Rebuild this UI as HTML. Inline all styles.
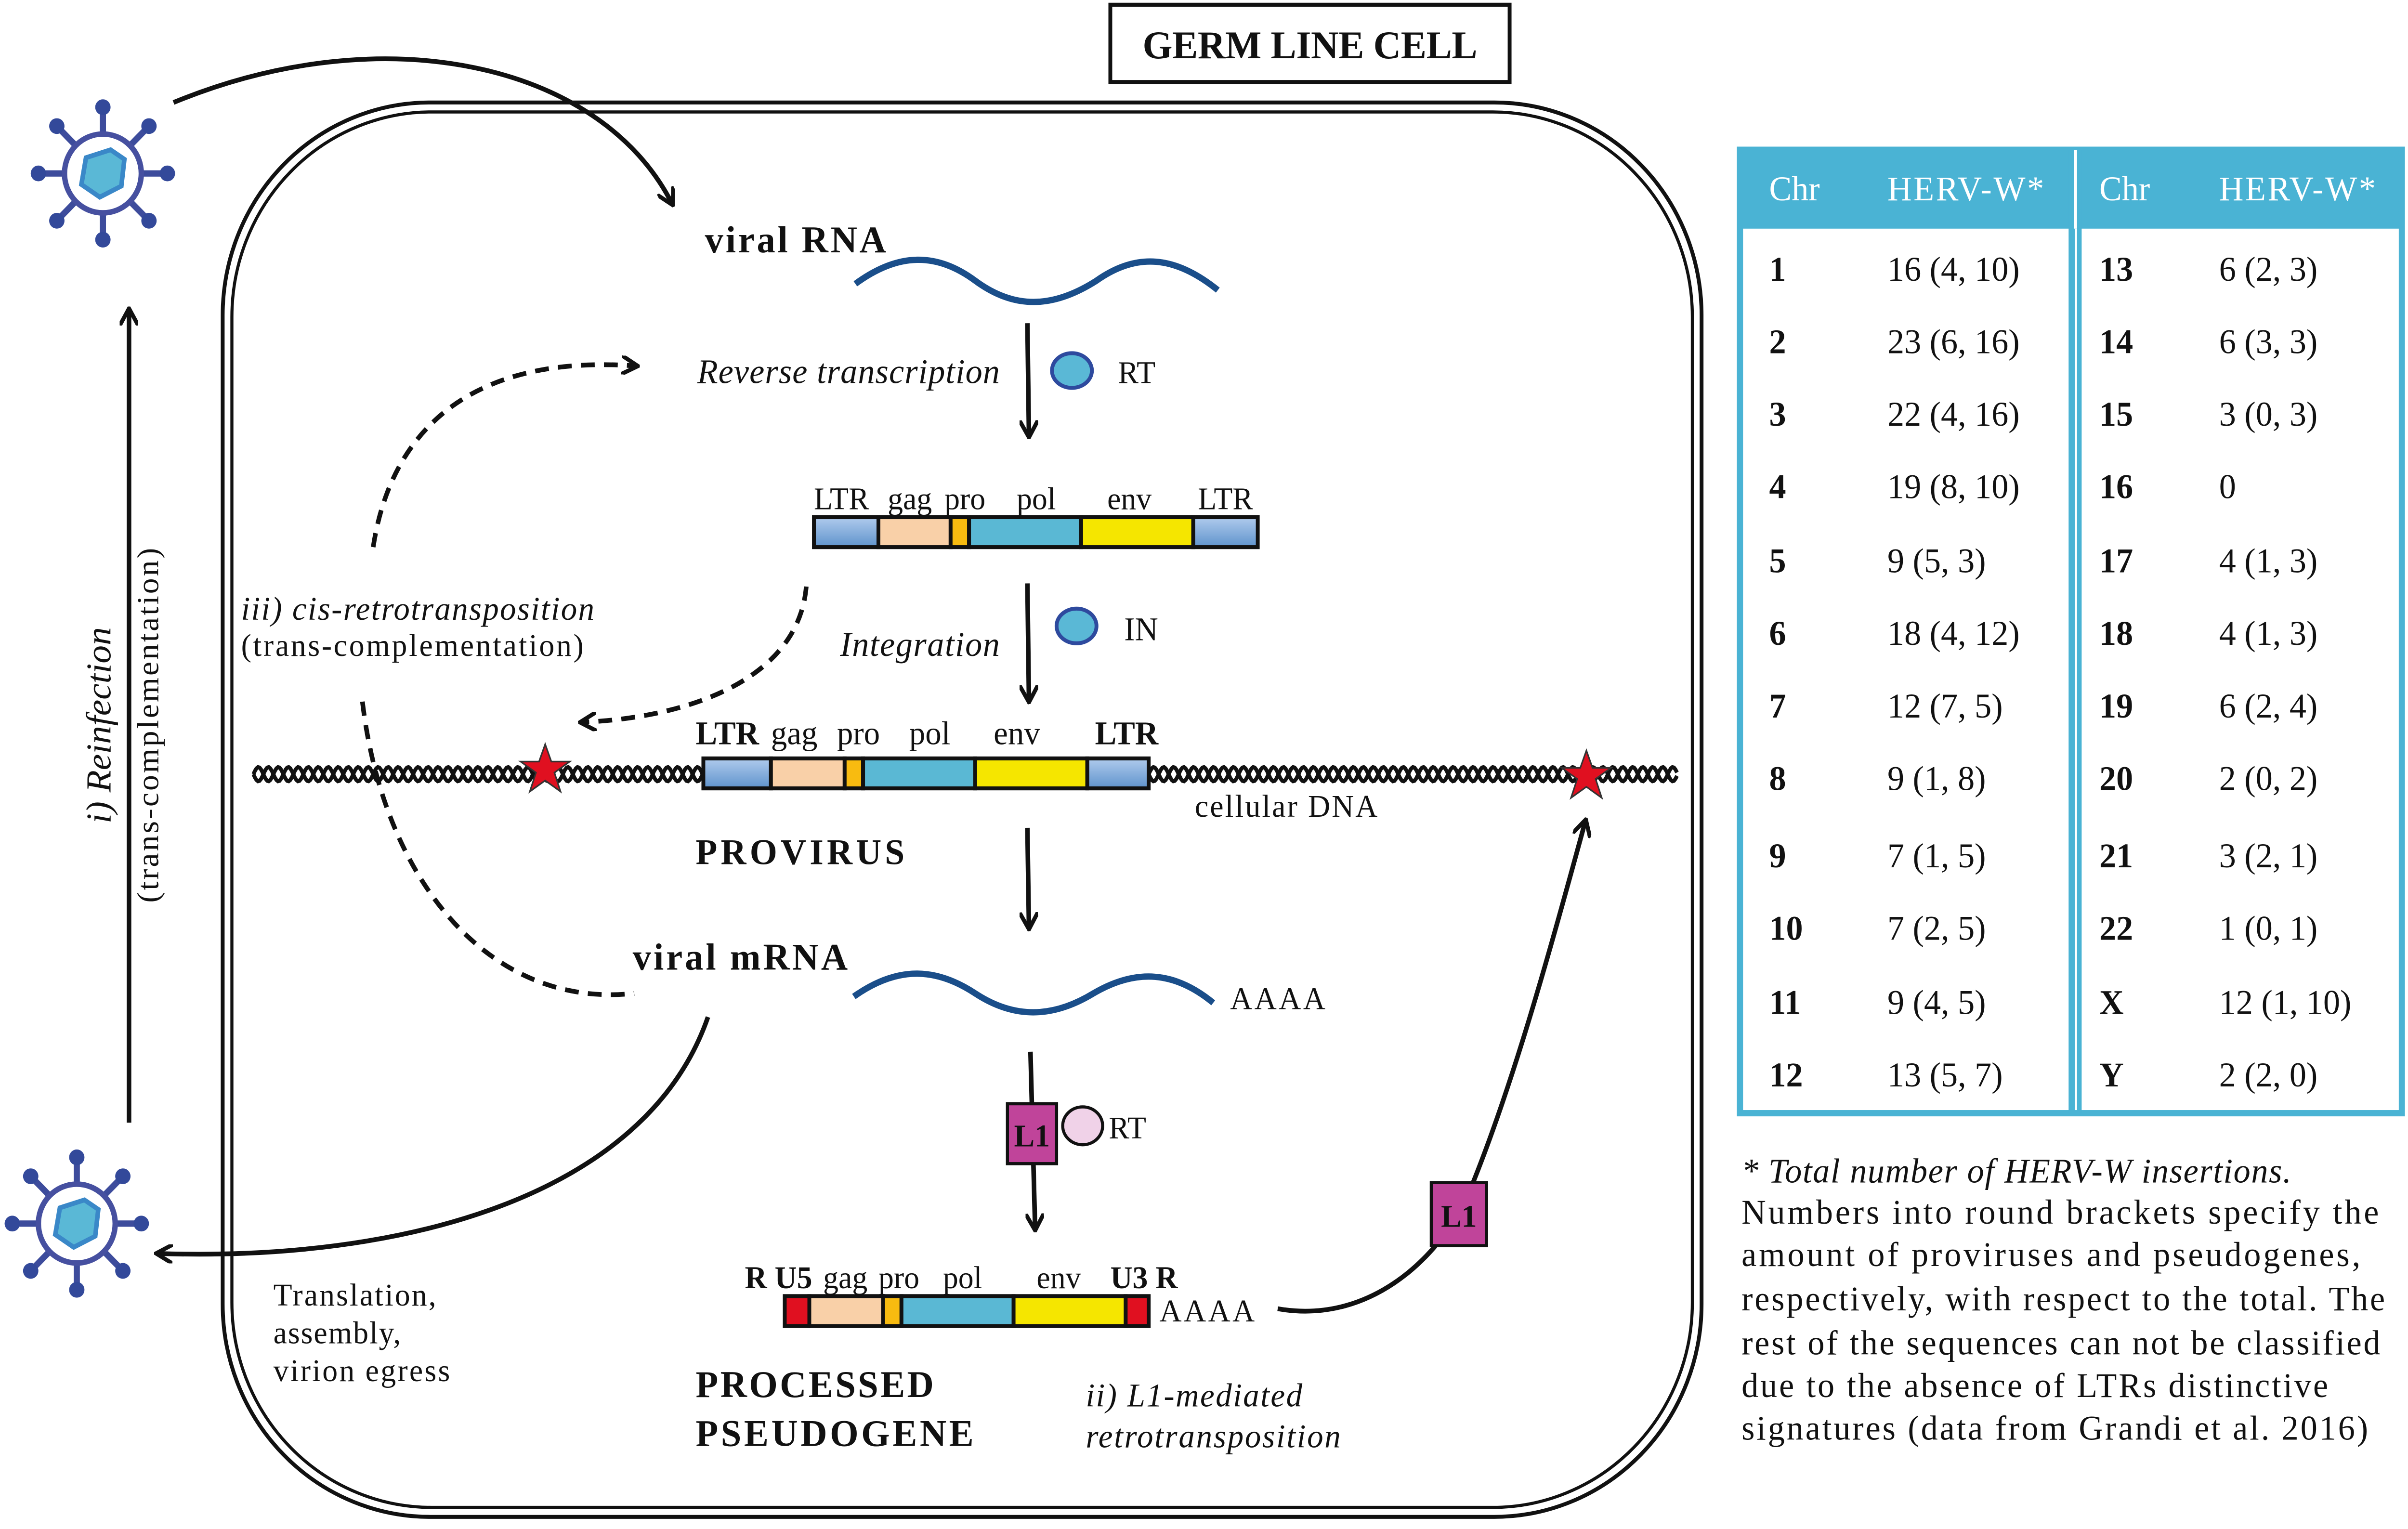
<!DOCTYPE html>
<html><head><meta charset="utf-8"><style>
html,body{margin:0;padding:0;background:#fff;overflow:hidden;width:100%;height:100%}
svg{display:block;position:fixed;left:0;top:0;width:100vw;height:100vh}
text{font-family:"Liberation Serif",serif;fill:#111}
.b{font-weight:bold}.i{font-style:italic}
</style></head><body>
<svg id="s" viewBox="0 0 1568 969.7" preserveAspectRatio="none" xmlns="http://www.w3.org/2000/svg">
<defs>
<marker id="ah" viewBox="0 0 10 10" refX="7" refY="5" markerWidth="4" markerHeight="4" orient="auto"><path d="M0,0 L9,5 L0,10" fill="none" stroke="#111" stroke-width="2.2"/></marker>
<linearGradient id="lb" x1="0" y1="0" x2="0" y2="1"><stop offset="0" stop-color="#b0cbed"/><stop offset="1" stop-color="#5f93cc"/></linearGradient>
<g id="virus">
<g stroke="#3d4c9c" stroke-width="4">
<line x1="0" y1="-42" x2="0" y2="42"/><line x1="-42" y1="0" x2="42" y2="0"/>
<line x1="-30" y1="-30" x2="30" y2="30"/><line x1="30" y1="-30" x2="-30" y2="30"/>
</g>
<g fill="#33499a"><circle cx="0" cy="-42" r="5"/><circle cx="0" cy="42" r="5"/><circle cx="-42" cy="0" r="5"/><circle cx="42" cy="0" r="5"/><circle cx="-30" cy="-30" r="5"/><circle cx="30" cy="30" r="5"/><circle cx="30" cy="-30" r="5"/><circle cx="-30" cy="30" r="5"/></g>
<circle r="25" fill="#fff" stroke="#4650a0" stroke-width="3.5"/>
<polygon points="5,-15 14,-9 12,8 -2,15 -14,7 -11,-10" fill="#5ab8d6" stroke="#3a88c8" stroke-width="3"/>
</g>
</defs>

<rect x="723" y="3" width="260" height="49" fill="#fff" stroke="#111" stroke-width="2.5"/>
<text x="853" y="37" text-anchor="middle" class="b" font-size="25" textLength="218">GERM LINE CELL</text>

<rect x="145" y="65" width="963" height="897" rx="135" fill="none" stroke="#111" stroke-width="2.5"/>
<rect x="151" y="71" width="951" height="885" rx="130" fill="none" stroke="#111" stroke-width="2"/>

<use href="#virus" x="67" y="110"/>
<use href="#virus" x="50" y="776"/>

<path d="M113,65 C250,10 390,40 437,128" fill="none" stroke="#111" stroke-width="3" marker-end="url(#ah)"/>
<line x1="84" y1="712" x2="84" y2="198" stroke="#111" stroke-width="3" marker-end="url(#ah)"/>
<text transform="translate(72,460) rotate(-90)" text-anchor="middle" class="i" font-size="23">i) Reinfection</text>
<text transform="translate(103,460) rotate(-90)" text-anchor="middle" font-size="20" textLength="225">(trans-complementation)</text>

<text x="459" y="160" class="b" font-size="24" textLength="118">viral RNA</text>
<path d="M557,180 C585,160 610,160 635,178 C660,196 685,196 714,178 C740,160 765,162 793,184" fill="none" stroke="#1a4e8a" stroke-width="4"/>
<line x1="669" y1="205" x2="670" y2="275" stroke="#111" stroke-width="3" marker-end="url(#ah)"/>
<ellipse cx="698" cy="235" rx="13" ry="11" fill="#5ab8d6" stroke="#2e4a9e" stroke-width="2.5"/>
<text x="728" y="243" font-size="20">RT</text>
<text x="454" y="243" class="i" font-size="22" textLength="197">Reverse transcription</text>

<g stroke="#111" stroke-width="2.5">
<rect x="530" y="328" width="42" height="19" fill="url(#lb)"/>
<rect x="572" y="328" width="47" height="19" fill="#f9d0a8"/>
<rect x="619" y="328" width="12" height="19" fill="#f8bb10"/>
<rect x="631" y="328" width="73" height="19" fill="#5ab8d4"/>
<rect x="704" y="328" width="73" height="19" fill="#f5e600"/>
<rect x="777" y="328" width="42" height="19" fill="url(#lb)"/>
</g>
<g font-size="20"><text x="530" y="323">LTR</text><text x="578" y="323">gag</text><text x="615" y="323">pro</text><text x="662" y="323">pol</text><text x="721" y="323">env</text><text x="780" y="323">LTR</text></g>

<line x1="669" y1="370" x2="670" y2="443" stroke="#111" stroke-width="3" marker-end="url(#ah)"/>
<ellipse cx="701" cy="397" rx="13" ry="11" fill="#5ab8d6" stroke="#2e4a9e" stroke-width="2.5"/>
<text x="732" y="406" font-size="21">IN</text>
<text x="547" y="416" class="i" font-size="22" textLength="104">Integration</text>

<path id="h1" fill="none" stroke="#111" stroke-width="2.5"/>
<path id="h2" fill="none" stroke="#111" stroke-width="2.5"/>

<g stroke="#111" stroke-width="2.5">
<rect x="458" y="481" width="44" height="19" fill="url(#lb)"/>
<rect x="502" y="481" width="48" height="19" fill="#f9d0a8"/>
<rect x="550" y="481" width="12" height="19" fill="#f8bb10"/>
<rect x="562" y="481" width="73" height="19" fill="#5ab8d4"/>
<rect x="635" y="481" width="73" height="19" fill="#f5e600"/>
<rect x="708" y="481" width="40" height="19" fill="url(#lb)"/>
</g>
<g font-size="21"><text x="453" y="472" class="b">LTR</text><text x="502" y="472">gag</text><text x="545" y="472">pro</text><text x="592" y="472">pol</text><text x="647" y="472">env</text><text x="713" y="472" class="b">LTR</text></g>
<polygon points="355,472 359,483 371,483 361,490 365,502 355,495 345,502 349,490 339,483 351,483" fill="#e01020" stroke="#333" stroke-width="1"/>
<polygon points="1033,476 1037,487 1049,487 1039,494 1043,506 1033,499 1023,506 1027,494 1017,487 1029,487" fill="#e01020" stroke="#333" stroke-width="1"/>
<text x="778" y="518" font-size="20" textLength="119">cellular DNA</text>
<text x="453" y="548" class="b" font-size="23" textLength="136">PROVIRUS</text>

<line x1="669" y1="525" x2="670" y2="587" stroke="#111" stroke-width="3" marker-end="url(#ah)"/>

<text x="412" y="615" class="b" font-size="24" textLength="140">viral mRNA</text>
<path d="M556,632 C585,612 610,614 635,630 C660,646 685,646 712,630 C740,614 765,616 790,636" fill="none" stroke="#1a4e8a" stroke-width="4"/>
<text x="801" y="640" font-size="20" textLength="62">AAAA</text>

<line x1="671" y1="667" x2="674" y2="778" stroke="#111" stroke-width="3" marker-end="url(#ah)"/>
<rect x="656" y="700" width="32" height="38" fill="#c0449a" stroke="#111" stroke-width="2"/>
<text x="672" y="727" text-anchor="middle" class="b" font-size="20">L1</text>
<ellipse cx="705" cy="714" rx="13" ry="12" fill="#f0d2e8" stroke="#111" stroke-width="2"/>
<text x="722" y="722" font-size="20">RT</text>

<g stroke="#111" stroke-width="2.5">
<rect x="511" y="822" width="16" height="19" fill="#e01020"/>
<rect x="527" y="822" width="48" height="19" fill="#f9d0a8"/>
<rect x="575" y="822" width="12" height="19" fill="#f8bb10"/>
<rect x="587" y="822" width="73" height="19" fill="#5ab8d4"/>
<rect x="660" y="822" width="73" height="19" fill="#f5e600"/>
<rect x="733" y="822" width="15" height="19" fill="#e01020"/>
</g>
<g font-size="20"><text x="485" y="817" class="b">R U5</text><text x="536" y="817">gag</text><text x="572" y="817">pro</text><text x="614" y="817">pol</text><text x="675" y="817">env</text><text x="723" y="817" class="b">U3 R</text></g>
<text x="755" y="838" font-size="20" textLength="62">AAAA</text>
<text x="453" y="886" class="b" font-size="24" textLength="155">PROCESSED</text>
<text x="453" y="917" class="b" font-size="24" textLength="181">PSEUDOGENE</text>
<text x="707" y="892" class="i" font-size="21" textLength="141">ii) L1-mediated</text>
<text x="707" y="918" class="i" font-size="21" textLength="166">retrotransposition</text>

<path d="M832,830 C890,840 935,800 955,760 C985,690 1010,600 1032,522" fill="none" stroke="#111" stroke-width="3" marker-end="url(#ah)"/>
<rect x="932" y="750" width="36" height="40" fill="#c0449a" stroke="#111" stroke-width="2"/>
<text x="950" y="778" text-anchor="middle" class="b" font-size="20">L1</text>

<g fill="none" stroke="#111" stroke-width="3" stroke-dasharray="9,6">
<path d="M243,347 C255,270 310,225 413,232" marker-end="url(#ah)"/>
<path d="M525,372 C520,430 450,455 380,458" marker-end="url(#ah)"/>
<path d="M236,445 C250,560 320,640 413,630"/>
</g>
<text x="157" y="393" class="i" font-size="21" textLength="230">iii) cis-retrotransposition</text>
<text x="157" y="416" font-size="20" textLength="223">(trans-complementation)</text>

<path d="M461,645 C420,760 260,800 104,795" fill="none" stroke="#111" stroke-width="3" marker-end="url(#ah)"/>
<g font-size="20"><text x="178" y="828" textLength="106">Translation,</text><text x="178" y="852" textLength="83">assembly,</text><text x="178" y="876" textLength="115">virion egress</text></g>

<rect x="1133" y="95" width="431" height="611" fill="#fff" stroke="#4ab3d4" stroke-width="4"/>
<rect x="1133" y="95" width="431" height="50" fill="#4ab3d4"/>
<line x1="1349" y1="95" x2="1349" y2="706" stroke="#4ab3d4" stroke-width="4"/>
<line x1="1354" y1="95" x2="1354" y2="706" stroke="#4ab3d4" stroke-width="3"/>
<line x1="1351.5" y1="95" x2="1351.5" y2="145" stroke="#fff" stroke-width="2"/>
<g font-size="22"><text x="1152" y="127" style="fill:#fff">Chr</text><text x="1229" y="127" style="fill:#fff" textLength="102">HERV-W*</text><text x="1367" y="127" style="fill:#fff">Chr</text><text x="1445" y="127" style="fill:#fff" textLength="102">HERV-W*</text></g>
<g id="rows" font-size="22"></g>

<g font-size="22">
<text x="1134" y="750" class="i" textLength="358">* Total number of HERV-W insertions.</text>
<text x="1134" y="776" textLength="415">Numbers into round brackets specify the</text>
<text x="1134" y="803" textLength="403">amount of proviruses and pseudogenes,</text>
<text x="1134" y="831" textLength="419">respectively, with respect to the total. The</text>
<text x="1134" y="859" textLength="416">rest of the sequences can not be classified</text>
<text x="1134" y="886" textLength="382">due to the absence of LTRs distinctive</text>
<text x="1134" y="913" textLength="408">signatures (data from Grandi et al. 2016)</text>
</g>
</svg>
<script>
(function(){
var NS="http://www.w3.org/2000/svg";
var d1="",d2="";
function seg(a,b){var p1="",p2="";for(var x=a;x<=b;x+=1){var y1=491+4.5*Math.sin((x-a)/13*2*Math.PI),y2=491-4.5*Math.sin((x-a)/13*2*Math.PI);p1+=(x==a?"M":"L")+x+","+y1.toFixed(2);p2+=(x==a?"M":"L")+x+","+y2.toFixed(2);}d1+=p1;d2+=p2;}
seg(165,458);seg(748,1092);
document.getElementById("h1").setAttribute("d",d1);
document.getElementById("h2").setAttribute("d",d2);
var L=[["1","16 (4, 10)","13","6 (2, 3)"],["2","23 (6, 16)","14","6 (3, 3)"],["3","22 (4, 16)","15","3 (0, 3)"],["4","19 (8, 10)","16","0"],["5","9 (5, 3)","17","4 (1, 3)"],["6","18 (4, 12)","18","4 (1, 3)"],["7","12 (7, 5)","19","6 (2, 4)"],["8","9 (1, 8)","20","2 (0, 2)"],["9","7 (1, 5)","21","3 (2, 1)"],["10","7 (2, 5)","22","1 (0, 1)"],["11","9 (4, 5)","X","12 (1, 10)"],["12","13 (5, 7)","Y","2 (2, 0)"]];
var Y=[178,224,270,316,363,409,455,501,550,596,643,689];
var g=document.getElementById("rows");
function t(x,y,s,b){var e=document.createElementNS(NS,"text");e.setAttribute("x",x);e.setAttribute("y",y);if(b)e.setAttribute("class","b");e.textContent=s;g.appendChild(e);}
L.forEach(function(r,i){t(1152,Y[i],r[0],1);t(1229,Y[i],r[1]);t(1367,Y[i],r[2],1);t(1445,Y[i],r[3]);});
})();
</script>
</body></html>
